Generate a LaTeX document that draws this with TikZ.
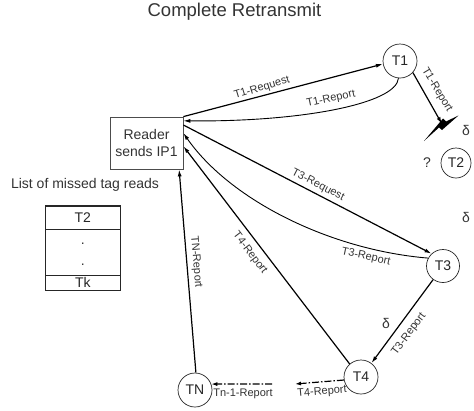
\documentclass[tikz,border=0pt]{standalone}
\usepackage{fontspec}
\setmainfont{Liberation Sans}
\usetikzlibrary{arrows.meta}
\begin{document}
\begin{tikzpicture}[x=1pt,y=-1pt,
  txt/.style={text=black!80, inner sep=0pt, font=\fontsize{14}{17}\selectfont},
  lbl/.style={font=\fontsize{11}{13}\selectfont, text=black!80, inner sep=0pt},
  tag/.style={circle, draw=black!85, line width=0.7pt, minimum size=34pt, inner sep=0pt, font=\fontsize{14}{16}\selectfont, text=black!85},
  conn/.style={line width=1.2pt, -{Latex[length=7pt,width=4pt]}},
  curv/.style={line width=0.9pt, -{Latex[length=7pt,width=4pt]}},
  dd/.style={line width=1.2pt, dash pattern=on 7pt off 2pt on 1.5pt off 2pt, -{Latex[length=6pt,width=4pt]}},
  row/.style={draw=black!85, line width=0.7pt, minimum width=74.3pt, inner sep=0pt, font=\fontsize{14}{16}\selectfont, text=black!85}
]
\useasboundingbox (0,0) rectangle (474,410);

% title
\node[txt, font=\fontsize{18.5}{20}\selectfont] (title) at (234.5,12) {Complete Retransmit};

% reader
\node[draw=black!70, line width=0.8pt, minimum width=73pt, minimum height=52pt, align=center, inner sep=0pt, txt] (reader) at (146.5,143) {Reader\\sends IP1};

% tags
\node[tag] (T1) at (400,61) {T1};
\node[tag, minimum size=30pt] (T2) at (456,163) {T2};
\node[tag, minimum size=33pt] (T3) at (443,266) {T3};
\node[tag] (T4) at (361,377) {T4};
\node[tag] (TN) at (195,390) {TN};

% list of missed reads
\node[txt] (listlbl) at (85,185) {List of missed tag reads};
\node[row, minimum height=23pt] (r1) at (82.85,217.5) {T2};
\node[row, minimum height=46pt] (r2) at (82.85,252) {};
\node[row, minimum height=15pt] (r3) at (82.85,282.5) {Tk};
\node[txt] (d1) at (82.85,244) {.};
\node[txt] (d2) at (82.85,265) {.};
\draw[line width=1.6pt, black!85] (r1.north west) rectangle (r3.south east);

% T1 request / report
\draw[conn] (reader.north east) -- (T1.190)
  node[lbl, rotate=16.8] (l1) at (262,88) {T1-Request};
\draw[curv] (T1.-95) .. controls (396,104) and (300,122) .. (reader.31)
  node[lbl, rotate=12] (l2) at (331,99) {T1-Report};

% T1 report towards T2 (lost)
\coordinate (lost) at (442,124);
\draw[conn] (T1.-42) -- (lost)
  node[lbl, rotate=-59] (l3) at (437,90) {T1-Report};
\fill[black] (424,141) -- (439,127.5) -- (442,130) -- (458.5,115.5) -- (446,121.5) -- (443,118.5) -- cycle;
\node[txt] (delta1) at (466,130) {δ};
\node[txt] (quest) at (427,163) {?};
\node[txt] (delta2) at (466,217) {δ};

% T3 request / report
\draw[conn] (reader.26) -- (T3.133)
  node[lbl, rotate=-27.2] (l4) at (318,185) {T3-Request};
\draw[curv] (T3.152) .. controls (330,250) and (230,200) .. (reader.15)
  node[lbl, rotate=-12] (l5) at (366,257) {T3-Report};

% T3 -> T4
\draw[conn] (T3.-126) -- (T4.53)
  node[lbl, rotate=53.6] (l6) at (409,334) {T3-Report};
\node[txt] (delta3) at (386,323) {δ};

% T4 report to reader
\draw[conn] (T4.131) -- (reader.-5)
  node[lbl, rotate=-52.9] (l7) at (250,253) {T4-Report};

% TN report to reader
\draw[conn] (TN.87) -- (reader.-39)
  node[lbl, rotate=-85.2] (l8) at (196,262) {TN-Report};

% dash-dot chain
\coordinate (c1) at (295,384);
\coordinate (c2) at (272,384);
\draw[dd] (T4.190) -- (c1)
  node[lbl, rotate=5] (l9) at (322,392) {T4-Report};
\draw[dd] (c2) -- (TN.20)
  node[lbl] (l10) at (243,394) {Tn-1-Report};
\end{tikzpicture}
\end{document}
